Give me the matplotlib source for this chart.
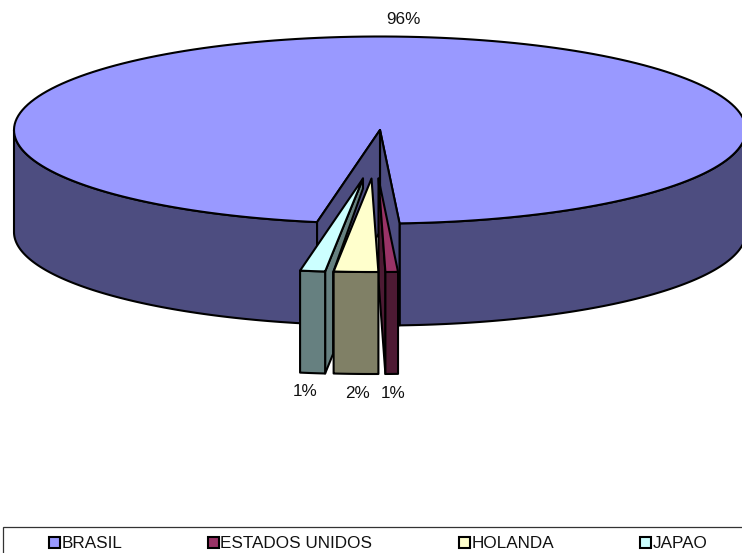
import numpy as np
import matplotlib
matplotlib.use("Agg")
import matplotlib.pyplot as plt
from matplotlib.patches import Polygon, Rectangle

plt.rcParams['font.family'] = ['Liberation Sans', 'DejaVu Sans']

# Data (share of total)
countries = ['BRASIL', 'ESTADOS UNIDOS', 'HOLANDA', 'JAPAO']
shares = [96.4, 0.55, 1.95, 1.1]

# Colours per slice
top_colors = ['#9999FF', '#993366', '#FFFFCC', '#CCFFFF']
side_colors = ['#4D4D80', '#4D1A33', '#808066', '#668080']

# Pie geometry, in pixels of the image
cx, cy = 380, 130
rx, ry = 366, 93.5
depth = 102
start = 99.9
lw = 1.5

# How far each slice is pulled out of the pie
explode = [(0, 0), (-1.5, 48.5), (-8.5, 48.5), (-17, 48.5)]
label_pos = [(403, 20), (393, 393), (358, 393), (305, 391)]
legend_x = [49, 208, 459, 640]

fig = plt.figure(figsize=(7.42, 5.53), dpi=100)
ax = fig.add_axes([0, 0, 1, 1])
ax.set_xlim(0, 742)
ax.set_ylim(553, 0)
ax.axis('off')


def arc(t0, t1, dx=0, dy=0):
    t = np.radians(np.linspace(t0, t1, 200))
    return np.column_stack([cx + dx + rx * np.cos(t), cy + dy + ry * np.sin(t)])


def poly(points, color):
    ax.add_patch(Polygon(points, closed=True, facecolor=color, edgecolor='black',
                         linewidth=lw, joinstyle='round'))


# Slice angles, clockwise from the start of BRASIL
ends = start + np.cumsum(shares) * 3.6
starts = np.concatenate([[start], ends[:-1]])
apex = np.array([cx, cy])
down = np.array([0, depth])

# Big slice: outer wall, then the top, then the two cut walls
b_end = ends[0] - 360
for t0, t1 in ((b_end, 0), (start, 180)):
    a = arc(t0, t1)
    poly(np.vstack([a, (a + down)[::-1]]), side_colors[0])
top = arc(start, ends[0])
poly(np.vstack([apex, top]), top_colors[0])
for p in (arc(b_end, b_end, 0, 0)[0], arc(start, start, 0, 0)[0]):
    poly([apex, p, p + down, apex + down], side_colors[0])


def draw_slice(i):
    dx, dy = explode[i]
    a = arc(starts[i] - 360, ends[i] - 360, dx, dy)
    tip = apex + (dx, dy)
    # a[0] is the right end of the rim, a[-1] the left end
    if countries[i] == 'JAPAO':
        r = a[0]
        w = 8
        k = w / (tip[0] - r[0])
        low = r + down + (tip - r) * k
        poly([tip, r, r + down, low, (r[0] + w, r[1] + 1), tip + (0, 10)], side_colors[i])
    if countries[i] == 'ESTADOS UNIDOS':
        poly([tip, a[-1], a[-1] + down, tip + down], side_colors[i])
    poly(np.vstack([a, (a + down)[::-1]]), side_colors[i])
    poly(np.vstack([tip, a]), top_colors[i])


for i in (3, 1, 2):
    draw_slice(i)

# Percentage labels
for share, (x, y) in zip(shares, label_pos):
    ax.text(x, y, f'{round(share)}%', ha='center', va='center', fontsize=12.3, color='#111111')

# Legend frame runs off the bottom and right of the image
ax.add_patch(Rectangle((3, 527), 760, 40, facecolor='white', edgecolor='#333333', linewidth=0.9))
for name, color, x in zip(countries, top_colors, legend_x):
    ax.add_patch(Rectangle((x, 537), 11, 11, facecolor=color, edgecolor='black', linewidth=1.5))
    ax.text(x + 12.5, 543, name, ha='left', va='center', fontsize=12.3, color='#111111')

fig.savefig('out.png', dpi=100)
